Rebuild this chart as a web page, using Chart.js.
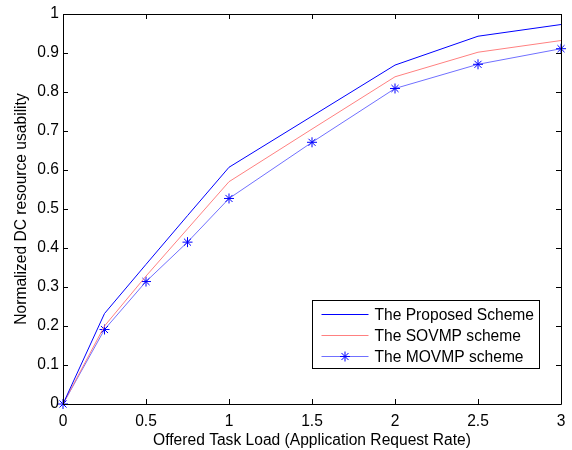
<!DOCTYPE html>
<html><head><meta charset="utf-8">
<script src="https://cdn.jsdelivr.net/npm/chart.js@4.4.1/dist/chart.umd.min.js"></script>
<style>html,body{margin:0;padding:0;background:#fff}#wrap{width:572px;height:450px}</style>
</head><body><div id="wrap"><canvas id="c" width="572" height="450"></canvas></div>
<script>
const loads = [0, 0.25, 0.5, 0.75, 1, 1.5, 2, 2.5, 3];
const proposed = [0, 0.232, 0.358, 0.483, 0.607, 0.738, 0.869, 0.943, 0.973];
const sovmp = [0, 0.200, 0.328, 0.449, 0.570, 0.705, 0.839, 0.902, 0.932];
const movmp = [0, 0.191, 0.314, 0.415, 0.527, 0.671, 0.809, 0.871, 0.911];
const seriesNames = ['The Proposed Scheme', 'The SOVMP scheme', 'The MOVMP scheme'];
const xTicks = [0, 0.5, 1, 1.5, 2, 2.5, 3];
const xTickLabels = ['0', '0.5', '1', '1.5', '2', '2.5', '3'];
const yTicks = [0, 0.1, 0.2, 0.3, 0.4, 0.5, 0.6, 0.7, 0.8, 0.9, 1];
const yTickLabels = ['0', '0.1', '0.2', '0.3', '0.4', '0.5', '0.6', '0.7', '0.8', '0.9', '1'];

const FONT = 'Liberation Sans, Arial, sans-serif';
const FS = 15.6;
const pts = arr => loads.map((x, i) => ({x: x, y: arr[i]}));

const boxPlugin = {
  id: 'boxTicks',
  afterDatasetsDraw(chart) {
    const ctx = chart.ctx, a = chart.chartArea;
    const xs = chart.scales.x, ys = chart.scales.y;
    ctx.save();
    ctx.strokeStyle = '#000';
    ctx.lineWidth = 1;
    ctx.beginPath();
    ctx.rect(Math.round(a.left) + 0.5, Math.round(a.top) + 0.5, Math.round(a.right - a.left), Math.round(a.bottom - a.top));
    ctx.stroke();
    const L = 5;
    ctx.beginPath();
    xTicks.forEach(v => {
      const px = Math.round(xs.getPixelForValue(v)) + 0.5;
      ctx.moveTo(px, a.bottom); ctx.lineTo(px, a.bottom - L);
      ctx.moveTo(px, a.top); ctx.lineTo(px, a.top + L);
    });
    yTicks.forEach(v => {
      const py = Math.round(ys.getPixelForValue(v)) + 0.5;
      ctx.moveTo(a.left, py); ctx.lineTo(a.left + L, py);
      ctx.moveTo(a.right, py); ctx.lineTo(a.right - L, py);
    });
    ctx.stroke();
    // legend
    const w = 227, h = 68;
    const lx = Math.round(a.right - 22 - w) + 0.5, ly = Math.round(a.bottom - 36 - h) + 0.5;
    ctx.fillStyle = '#fff';
    ctx.fillRect(lx, ly, w, h);
    ctx.strokeStyle = '#000';
    ctx.strokeRect(lx, ly, w, h);
    ctx.font = FS + 'px ' + FONT;
    ctx.textBaseline = 'middle';
    chart.data.datasets.forEach((ds, i) => {
      const cy = ly + 14 + i * 21;
      ctx.strokeStyle = ds.borderColor;
      ctx.lineWidth = 1;
      ctx.beginPath();
      ctx.moveTo(lx + 9, cy); ctx.lineTo(lx + 56, cy);
      ctx.stroke();
      if (ds.pointRadius > 0) {
        ctx.strokeStyle = ds.pointBorderColor;
        const r = 5, mx = lx + 32.5;
        ctx.beginPath();
        ctx.moveTo(mx - r, cy); ctx.lineTo(mx + r, cy);
        ctx.moveTo(mx, cy - r); ctx.lineTo(mx, cy + r);
        const d = r * 0.707;
        ctx.moveTo(mx - d, cy - d); ctx.lineTo(mx + d, cy + d);
        ctx.moveTo(mx - d, cy + d); ctx.lineTo(mx + d, cy - d);
        ctx.stroke();
      }
      ctx.fillStyle = '#000';
      ctx.textAlign = 'left';
      ctx.fillText(ds.label, lx + 62, cy + 1);
    });
    ctx.restore();
  }
};

new Chart(document.getElementById('c'), {
  type: 'line',
  data: {
    datasets: [
      {label: seriesNames[0], data: pts(proposed), borderColor: '#0000ff', borderWidth: 1, pointRadius: 0, tension: 0, clip: false},
      {label: seriesNames[1], data: pts(sovmp), borderColor: '#ff8080', borderWidth: 1, pointRadius: 0, tension: 0, clip: false},
      {label: seriesNames[2], data: pts(movmp), borderColor: '#7070ff', borderWidth: 1, pointRadius: 5, pointStyle: 'star',
       pointBorderColor: '#0000ff', pointBackgroundColor: '#0000ff', pointBorderWidth: 1, tension: 0, clip: false}
    ]
  },
  options: {
    responsive: false,
    animation: false,
    devicePixelRatio: 1,
    layout: {padding: {left: 0, right: 11, top: 14, bottom: 0}},
    plugins: {legend: {display: false}, tooltip: {enabled: false}},
    scales: {
      x: {
        type: 'linear', min: 0, max: 3,
        afterBuildTicks: s => { s.ticks = xTicks.map(v => ({value: v})); },
        grid: {display: false, drawTicks: false}, border: {display: false},
        ticks: {color: '#000', font: {family: FONT, size: FS}, padding: 8, maxRotation: 0,
                callback: (v, i) => xTickLabels[i]},
        title: {display: true, text: 'Offered Task Load (Application Request Rate)', color: '#000', font: {family: FONT, size: FS}, padding: {top: 1, bottom: 0}},
        afterFit: s => { s.height = 46; s.paddingLeft = 0; s.paddingRight = 0; }
      },
      y: {
        type: 'linear', min: 0, max: 1,
        afterBuildTicks: s => { s.ticks = yTicks.map(v => ({value: v})); },
        grid: {display: false, drawTicks: false}, border: {display: false},
        ticks: {color: '#000', font: {family: FONT, size: FS}, padding: 4,
                callback: (v, i) => yTickLabels[i]},
        title: {display: true, text: 'Normalized DC resource usability', color: '#000', font: {family: FONT, size: FS}, padding: {top: 12, bottom: 0}},
        afterFit: s => { s.width = 63; s.paddingTop = 0; s.paddingBottom = 0; }
      }
    }
  },
  plugins: [boxPlugin]
});
</script></body></html>
